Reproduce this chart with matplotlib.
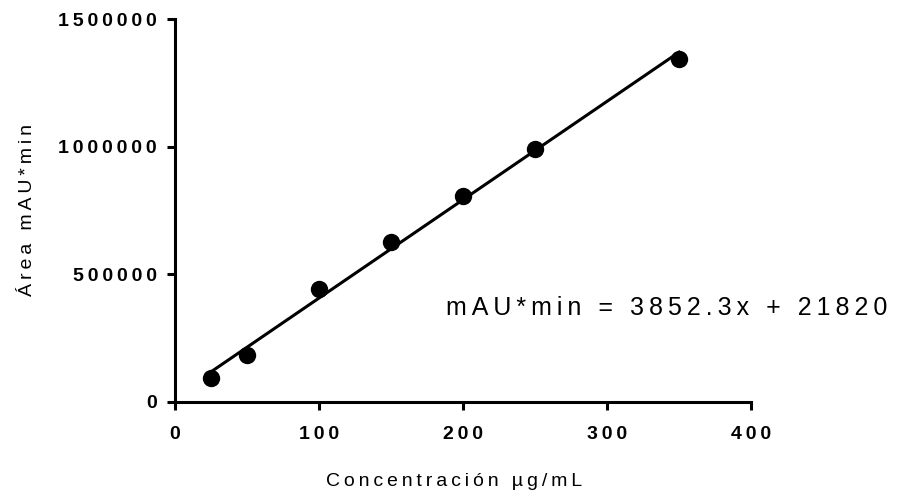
import numpy as np
import matplotlib
matplotlib.use("Agg")
import matplotlib.pyplot as plt

# calibration data
conc = [25, 50, 100, 150, 200, 250, 350]
area = [95000, 184000, 441000, 626000, 806000, 991000, 1342000]
slope = 3852.3
intercept = 21820

x_ticks = [0, 100, 200, 300, 400]
y_ticks = [0, 500000, 1000000, 1500000]


def spaced(s):
    # wide letter spacing like the original Prism export
    return "\u2009".join(s)


plt.rcParams["font.family"] = ["Liberation Sans", "DejaVu Sans"]

fig = plt.figure(figsize=(9.04, 4.95), dpi=100)
ax = fig.add_axes([0.1936, 0.1879, 0.8308 - 0.1936, 0.9616 - 0.1879])

fit_x = np.array([min(conc), max(conc)])
ax.plot(fit_x, slope * fit_x + intercept, color="black", lw=2.2, zorder=2)
ax.plot(conc, area, "o", color="black", ms=11.5, zorder=3)

ax.set_xlim(0, 400)
ax.set_ylim(0, 1500000)
ax.set_xticks(x_ticks)
ax.set_yticks(y_ticks)
ax.set_xticklabels([spaced(str(v)) for v in x_ticks], fontweight="bold", fontsize=14)
ax.set_yticklabels([spaced(str(v)) for v in y_ticks], fontweight="bold", fontsize=14)

for side in ["top", "right"]:
    ax.spines[side].set_visible(False)
for side in ["left", "bottom"]:
    ax.spines[side].set_linewidth(2.2)
ax.tick_params(axis="both", direction="out", length=6, width=2.2)
ax.tick_params(axis="y", pad=7)
ax.tick_params(axis="x", pad=11)

ax.set_xlabel(spaced("Concentración µg/mL"), fontsize=14)
ax.xaxis.set_label_coords(0.485, -0.185)
ax.set_ylabel(spaced("Área mAU*min"), fontsize=14)
ax.yaxis.set_label_coords(-0.241, 0.5)

ax.text(495, 368000, spaced("mAU*min = 3852.3x + 21820"), fontsize=18,
        ha="right", va="center", clip_on=False)

fig.savefig("out.png", dpi=100)
